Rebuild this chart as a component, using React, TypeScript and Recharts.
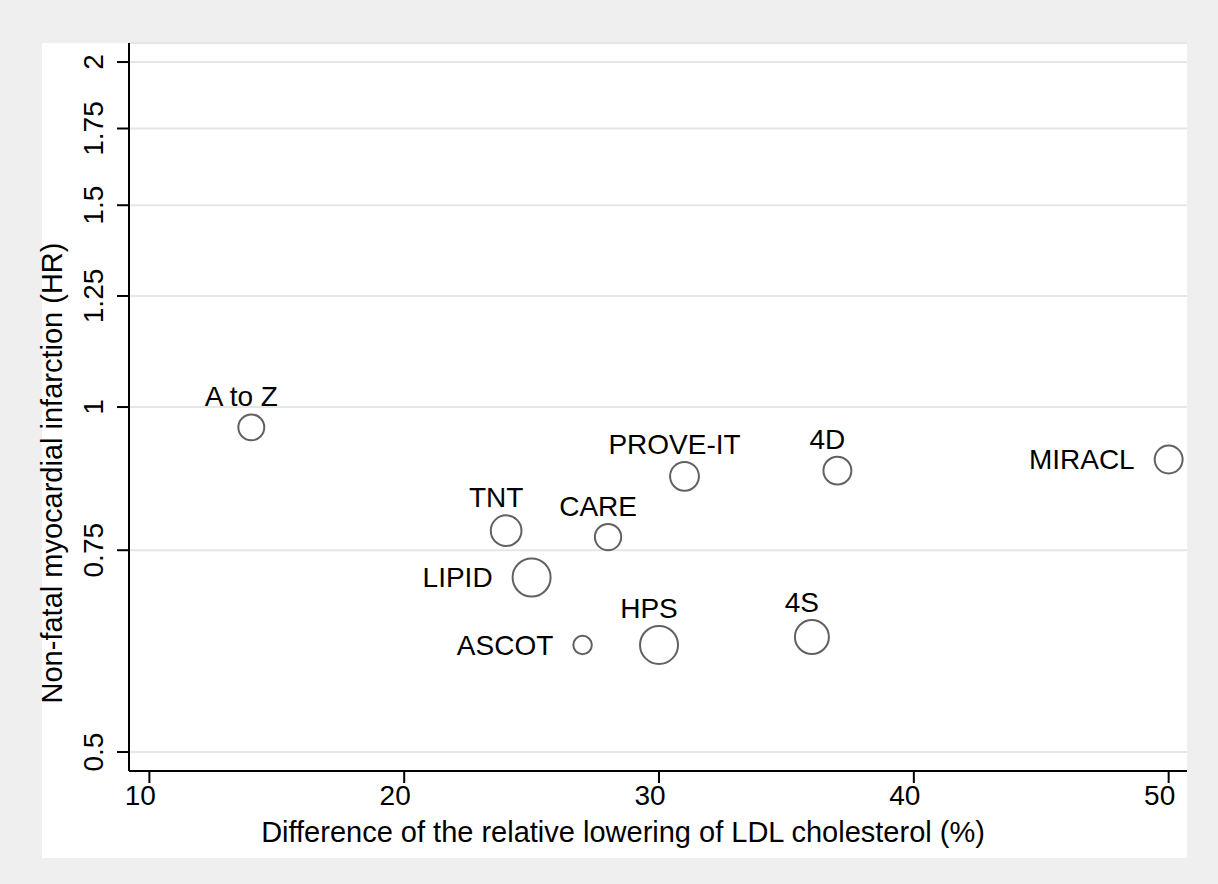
import React from 'react';
import { ScatterChart, Scatter, XAxis, YAxis, ZAxis, CartesianGrid } from 'recharts';

// trials, LDL lowering difference (%), hazard ratio for non-fatal MI, bubble weight
const trials = ['A to Z', 'TNT', 'LIPID', 'CARE', 'PROVE-IT', '4D', 'MIRACL', 'ASCOT', 'HPS', '4S'];
const ldlDiff = [14, 24, 25, 28, 31, 37, 50, 27, 30, 36];
const hazardRatio = [0.96, 0.78, 0.71, 0.77, 0.87, 0.88, 0.9, 0.62, 0.62, 0.63];
const weights = [205, 280, 420, 210, 250, 235, 235, 110, 420, 340];
const labelSide = ['top', 'top', 'left', 'top', 'top', 'top', 'left', 'left', 'top', 'top'];

const xTicks = [10, 20, 30, 40, 50];
const yTicks = [0.5, 0.75, 1, 1.25, 1.5, 1.75, 2];

const data = trials.map((name, i) => ({
  name,
  x: ldlDiff[i],
  y: hazardRatio[i],
  w: weights[i],
  side: labelSide[i],
}));

const FONT = "'Liberation Sans', Arial, Helvetica, sans-serif";

const Bubble = (props: any) => {
  const { cx, cy, payload } = props;
  const r = props.size ? Math.sqrt(props.size / Math.PI) : props.width / 2;
  const left = payload.side === 'left';
  return (
    <g>
      <circle cx={cx} cy={cy} r={r - 1} fill="none" stroke="#616161" strokeWidth={2} />
      <text
        x={left ? cx - r - 19 : cx - 10}
        y={left ? cy + 10 : cy - r - 7}
        textAnchor={left ? 'end' : 'middle'}
        fontSize={28}
        fill="#000"
      >
        {payload.name}
      </text>
    </g>
  );
};

const XTick = (props: any) => {
  const { x, y, payload } = props;
  return (
    <text x={x - 9} y={y + 20} textAnchor="middle" fontSize={28} fill="#000">
      {payload.value}
    </text>
  );
};

const YTick = (props: any) => {
  const { x, y, payload } = props;
  const bx = x - 12;
  return (
    <text x={bx} y={y} transform={`rotate(-90 ${bx} ${y})`} textAnchor="middle" fontSize={28} fill="#000">
      {String(payload.value)}
    </text>
  );
};

export default function App() {
  return (
    <div style={{ width: 1218, height: 884, background: '#efefef', position: 'relative', fontFamily: FONT }}>
      <style>{'body{margin:0}'}</style>
      {/* white graph region behind the chart */}
      <div style={{ position: 'absolute', left: 42, top: 43, width: 1145, height: 815, background: '#fff' }} />
      <div style={{ position: 'absolute', left: 0, top: 0 }}>
        <ScatterChart width={1187} height={858} margin={{ top: 43, right: 0, bottom: 0, left: 42 }}>
          <CartesianGrid horizontal vertical={false} stroke="#e6e6e6" strokeWidth={2} />
          <XAxis
            type="number"
            dataKey="x"
            domain={[9.2, 50.72]}
            ticks={xTicks}
            allowDataOverflow
            height={87}
            tickSize={12}
            tickMargin={2}
            stroke="#000"
            strokeWidth={2}
            tickLine={{ stroke: '#000', strokeWidth: 2 }}
            tick={<XTick />}
            label={{
              content: () => (
                <text x={623} y={842} textAnchor="middle" fontSize={29} fill="#000">
                  Difference of the relative lowering of LDL cholesterol (%)
                </text>
              ),
            }}
          />
          <YAxis
            type="number"
            dataKey="y"
            scale="log"
            domain={[0.4813, 2.078]}
            ticks={yTicks}
            allowDataOverflow
            width={87}
            tickSize={12}
            tickMargin={2}
            stroke="#000"
            strokeWidth={2}
            tickLine={{ stroke: '#000', strokeWidth: 2 }}
            tick={<YTick />}
            label={{
              content: () => (
                <text x={62} y={473} transform="rotate(-90 62 473)" textAnchor="middle" fontSize={29} fill="#000">
                  Non-fatal myocardial infarction (HR)
                </text>
              ),
            }}
          />
          <ZAxis type="number" dataKey="w" domain={[0, 400]} range={[0, 400 * Math.PI]} />
          <Scatter data={data} shape={<Bubble />} isAnimationActive={false} />
        </ScatterChart>
      </div>
    </div>
  );
}
